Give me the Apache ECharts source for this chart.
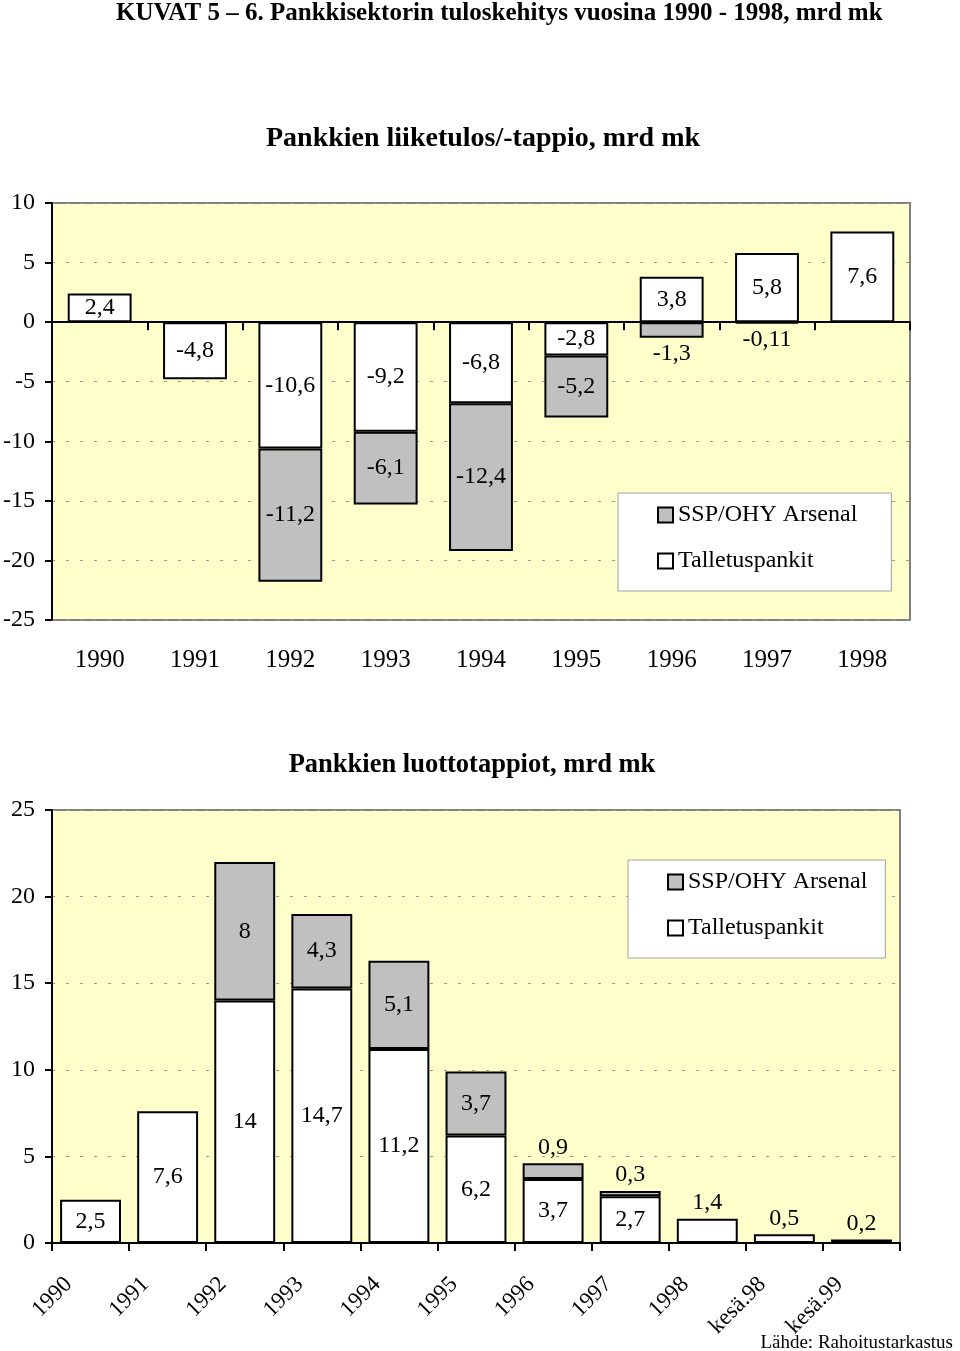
<!DOCTYPE html>
<html>
<head>
<meta charset="utf-8">
<script src="https://cdn.jsdelivr.net/npm/echarts@6/dist/echarts.min.js"></script>
<style>
  html, body { margin: 0; padding: 0; background: #ffffff; }
  #chart { width: 960px; height: 1351px; }
</style>
</head>
<body>
<div id="chart"></div>
<script>
// ---- data ----
const topCategories = ['1990', '1991', '1992', '1993', '1994', '1995', '1996', '1997', '1998'];
const topTalletus = [2.4, -4.8, -10.6, -9.2, -6.8, -2.8, 3.8, 5.8, 7.6];
const topSSP = [null, null, -11.2, -6.1, -12.4, -5.2, -1.3, -0.11, null];

const bottomCategories = ['1990', '1991', '1992', '1993', '1994', '1995', '1996', '1997', '1998', 'kesä.98', 'kesä.99'];
const bottomTalletus = [2.5, 7.6, 14, 14.7, 11.2, 6.2, 3.7, 2.7, 1.4, 0.5, 0.2];
const bottomSSP = [null, null, 8, 4.3, 5.1, 3.7, 0.9, 0.3, null, null, null];

const topYMin = -25, topYMax = 10, topYStep = 5;
const bottomYMin = 0, bottomYMax = 25, bottomYStep = 5;

const mainTitle = 'KUVAT 5 – 6. Pankkisektorin tuloskehitys vuosina 1990 - 1998, mrd mk';
const topTitle = 'Pankkien liiketulos/-tappio, mrd mk';
const bottomTitle = 'Pankkien luottotappiot, mrd mk';
const sourceText = 'Lähde: Rahoitustarkastus';
const nameTalletus = 'Talletuspankit';
const nameSSP = 'SSP/OHY Arsenal';

// ---- styling helpers ----
const SERIF = '"Liberation Serif", "Times New Roman", serif';
const fmt = p => String(p.value).replace('.', ',');
const smallLimit = 1.5;

function toItems(arr) {
  return arr.map(v => {
    if (v == null) return '-';
    const small = Math.abs(v) < smallLimit;
    return {
      value: v,
      label: { position: small ? (v < 0 ? 'bottom' : 'top') : 'inside', distance: small ? 4 : 5 }
    };
  });
}

function yAxis(gridIndex, min, max, step) {
  return {
    type: 'value', gridIndex, min, max, interval: step,
    axisLine: { show: true, lineStyle: { color: '#000', width: 2 } },
    axisTick: { show: true, length: 7, lineStyle: { color: '#000', width: 2 } },
    axisLabel: { color: '#000', fontFamily: SERIF, fontSize: 24, margin: 17 },
    splitLine: { show: true, lineStyle: { color: '#9a9a9a', width: 1, type: [3, 11] } }
  };
}

function barSeries(name, data, xi, yi, color, width, stack) {
  return {
    type: 'bar', name, data: toItems(data), xAxisIndex: xi, yAxisIndex: yi, stack,
    barWidth: width,
    itemStyle: { color, borderColor: '#000', borderWidth: 2 },
    label: { show: true, formatter: fmt, color: '#000', fontFamily: SERIF, fontSize: 24 },
    emphasis: { disabled: true },
    animation: false
  };
}

function legend(left, top, padRight) {
  return {
    left, top, orient: 'vertical',
    data: [nameSSP, nameTalletus],
    icon: 'rect', itemWidth: 15, itemHeight: 15, itemGap: 22, itemTextGap: 6,
    backgroundColor: '#ffffff', borderColor: '#a0a0a0', borderWidth: 1,
    padding: [10, padRight, 18, 39],
    textStyle: { color: '#000', fontFamily: SERIF, fontSize: 24 },
    itemStyle: { borderColor: '#000', borderWidth: 2 },
    selectedMode: false
  };
}

const chart = echarts.init(document.getElementById('chart'), null, { renderer: 'canvas' });
chart.setOption({
  animation: false,
  backgroundColor: '#ffffff',
  title: [
    { text: mainTitle, left: 111, top: -4, textStyle: { fontFamily: SERIF, fontWeight: 'bold', fontSize: 25, color: '#000' } },
    { text: topTitle, left: 478, textAlign: 'center', top: 120, textStyle: { fontFamily: SERIF, fontWeight: 'bold', fontSize: 28, color: '#000' } },
    { text: bottomTitle, left: 467, textAlign: 'center', top: 747, textStyle: { fontFamily: SERIF, fontWeight: 'bold', fontSize: 26.5, color: '#000' } },
    { text: sourceText, right: 2, top: 1329, textStyle: { fontFamily: SERIF, fontWeight: 'normal', fontSize: 19, color: '#000' } }
  ],
  legend: [legend(618, 493, 34), legend(628, 860, 18)],
  grid: [
    { left: 52, right: 50, top: 203, bottom: 731, show: true, backgroundColor: '#FFFFCC', borderColor: '#808080', borderWidth: 2 },
    { left: 52, right: 60, top: 810, bottom: 108, show: true, backgroundColor: '#FFFFCC', borderColor: '#808080', borderWidth: 2 }
  ],
  xAxis: [
    {
      type: 'category', gridIndex: 0, data: topCategories, position: 'bottom',
      axisLine: { show: true, onZero: true, lineStyle: { color: '#000', width: 2 } },
      axisTick: { show: true, interval: 0, length: 8, lineStyle: { color: '#000', width: 2 } },
      axisLabel: { show: false },
      splitLine: { show: false }
    },
    {
      type: 'category', gridIndex: 0, data: topCategories, position: 'bottom',
      axisLine: { show: false, onZero: false },
      axisTick: { show: false },
      axisLabel: { show: true, interval: 0, color: '#000', fontFamily: SERIF, fontSize: 25, margin: 28 },
      splitLine: { show: false }
    },
    {
      type: 'category', gridIndex: 1, data: bottomCategories, position: 'bottom',
      axisLine: { show: true, onZero: false, lineStyle: { color: '#000', width: 2 } },
      axisTick: { show: true, interval: 0, length: 8, lineStyle: { color: '#000', width: 2 } },
      axisLabel: { show: true, interval: 0, rotate: 45, color: '#000', fontFamily: SERIF, fontSize: 23, margin: 16, padding: [0, 31, 0, 0] },
      splitLine: { show: false }
    }
  ],
  yAxis: [
    yAxis(0, topYMin, topYMax, topYStep),
    yAxis(1, bottomYMin, bottomYMax, bottomYStep)
  ],
  series: [
    barSeries(nameTalletus, topTalletus, 0, 0, '#ffffff', '67%', 'top'),
    barSeries(nameSSP, topSSP, 0, 0, '#C0C0C0', '67%', 'top'),
    barSeries(nameTalletus, bottomTalletus, 2, 1, '#ffffff', '79%', 'bottom'),
    barSeries(nameSSP, bottomSSP, 2, 1, '#C0C0C0', '79%', 'bottom')
  ]
});
</script>
</body>
</html>
